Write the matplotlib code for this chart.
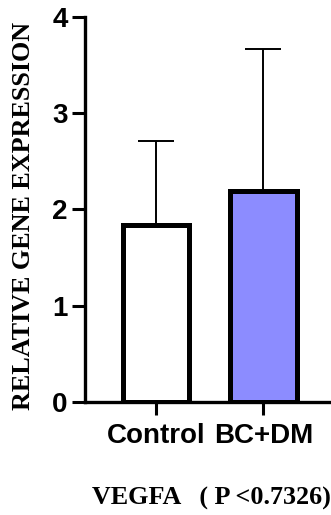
import matplotlib
matplotlib.use("Agg")
import matplotlib.pyplot as plt

groups = ["Control", "BC+DM"]
means = [1.84, 2.19]
sd_upper = [0.87, 1.48]
colors = ["white", "#8C8CFF"]
yticks = [0, 1, 2, 3, 4]
title = "VEGFA   ( P <0.7326)"
ylabel = "RELATIVE GENE EXPRESSION"

fig = plt.figure(figsize=(3.31, 5.15), dpi=100)
ax = fig.add_axes([0.257, 0.22, 0.743, 0.747])

x = list(range(len(groups)))
ax.errorbar(x, means, yerr=[[0] * len(means), sd_upper], fmt="none",
            ecolor="black", elinewidth=1.4, capsize=13, capthick=1.4, zorder=1)
ax.bar(x, means, width=0.62, color=colors, edgecolor="black", linewidth=3.6, zorder=2)

ax.set_xlim(-0.66, 1.63)
ax.set_ylim(0, 4)
ax.set_yticks(yticks)
ax.set_xticks(x)
ax.set_xticklabels(groups)

for s in ["top", "right"]:
    ax.spines[s].set_visible(False)
for s in ["left", "bottom"]:
    ax.spines[s].set_linewidth(2.4)

ax.tick_params(axis="both", length=9.5, width=2.2, labelsize=20)
ax.tick_params(axis="x", pad=6)
ax.tick_params(axis="y", pad=3)
for lab in ax.get_xticklabels() + ax.get_yticklabels():
    lab.set_fontfamily("Liberation Sans")
    lab.set_fontweight("bold")

fig.text(0.07, 0.58, ylabel, rotation=90, ha="center", va="center",
         family="Liberation Serif", fontweight="bold", fontsize=18.8)
fig.text(0.638, 0.033, title, ha="center", va="center",
         family="Liberation Serif", fontweight="bold", fontsize=18.8)

fig.savefig("out.png", dpi=100)
